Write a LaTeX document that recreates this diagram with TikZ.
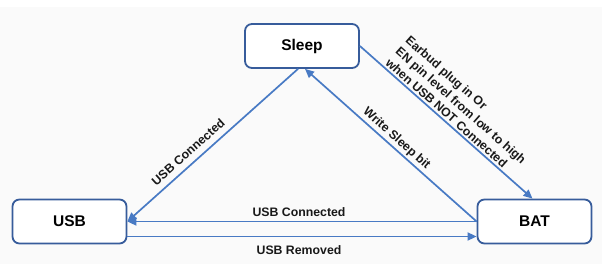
\documentclass[tikz,border=0pt]{standalone}
\usepackage{fontspec}
\setmainfont{Liberation Sans}
\usetikzlibrary{arrows.meta}
\definecolor{boxc}{RGB}{55,92,155}
\definecolor{linec}{RGB}{72,122,196}
\definecolor{bgc}{RGB}{250,250,250}
\begin{document}
\begin{tikzpicture}[x=1pt,y=-1pt,
  state/.style={draw=boxc, line width=1.8pt, fill=white, rounded corners=7pt,
    minimum width=114pt, minimum height=44pt, inner sep=0pt,
    font=\fontsize{15.5}{18}\selectfont\bfseries},
  conn/.style={draw=linec, line width=1.7pt, -{Triangle[length=9pt,width=8pt]}},
  lbl/.style={font=\fontsize{12.3}{15}\selectfont\bfseries, inner sep=2pt, text=black!90}]
\useasboundingbox (0,0) rectangle (606,273);
\fill[white] (0,0) rectangle (606,273);
\fill[bgc] (0,7) rectangle (602,264);
\node[state] (sleep) at (302,46) {Sleep};
\node[state] (usb) at (69.5,221.5) {USB};
\node[state] (bat) at (534.5,221.5) {BAT};
\draw[conn] ([xshift=-4pt]sleep.south) -- node[lbl, sloped, above=4pt, pos=0.6] {USB Connected} (usb.east);
\draw[conn] (bat.west) -- node[lbl, sloped, above, pos=0.5] {Write Sleep bit} ([xshift=3pt]sleep.south);
\draw[conn] (bat.west) -- node[lbl, above=2pt, xshift=-3pt] {USB Connected} (usb.east);
\draw[conn] ([yshift=-15pt]usb.east) -- node[lbl, below=6pt, xshift=-3pt] {USB Removed} ([yshift=-15pt]bat.west);
\draw[conn] (sleep.east) -- node[lbl, sloped, above, align=left] {Earbud plug in Or\\EN pin level from low to high\\when USB NOT Connected} ([xshift=-2pt]bat.north);
\end{tikzpicture}
\end{document}
